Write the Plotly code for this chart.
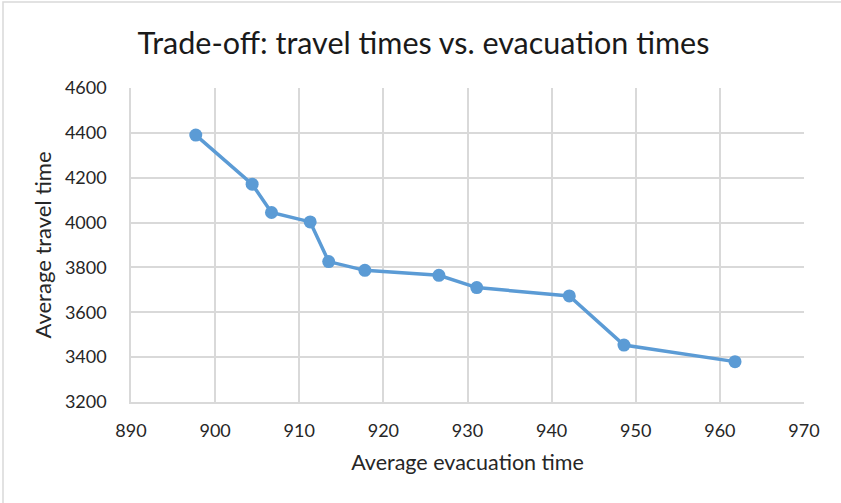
import plotly.graph_objects as go

# Pareto front: average evacuation time vs. average travel time
evacuation_time = [897.7, 904.4, 906.7, 911.3, 913.5, 917.8, 926.6, 931.1, 942.1, 948.6, 961.8]
travel_time = [4390, 4171, 4045, 4003, 3826, 3787, 3765, 3710, 3673, 3454, 3380]

x_ticks = [890, 900, 910, 920, 930, 940, 950, 960, 970]
y_ticks = [3200, 3400, 3600, 3800, 4000, 4200, 4400, 4600]

FONT = "Lato, Open Sans, sans-serif"
GRID = "#d9d9d9"
BLUE = "#5b9bd5"

W, H = 841, 503
L, R, T, B = 131, 37, 88, 101
PW, PH = W - L - R, H - T - B

fig = go.Figure(
    go.Scatter(
        x=evacuation_time,
        y=travel_time,
        mode="lines+markers",
        line=dict(color=BLUE, width=3.5),
        marker=dict(color=BLUE, size=13),
        showlegend=False,
    )
)

fig.update_layout(
    width=W,
    height=H,
    margin=dict(l=L, r=R, t=T, b=B),
    paper_bgcolor="white",
    plot_bgcolor="white",
    title=dict(
        text="Trade-off: travel times vs. evacuation times",
        x=(140 + 707) / 2 / W,
        xanchor="center",
        xref="container",
        y=1 - 43 / H,
        yanchor="middle",
        font=dict(family=FONT, size=30.5, color="#1a1a1a"),
    ),
    xaxis=dict(
        range=[890, 970],
        tickvals=x_ticks,
        ticktext=[str(v) for v in x_ticks],
        showgrid=True,
        gridcolor=GRID,
        gridwidth=1.5,
        showline=True,
        linecolor=GRID,
        linewidth=1.5,
        zeroline=False,
        ticks="",
        ticklabelstandoff=12,
        tickfont=dict(family=FONT, size=18, color="#262626"),
        title=dict(
            text="Average evacuation time",
            font=dict(family=FONT, size=21.5, color="#262626"),
            standoff=15,
        ),
    ),
    yaxis=dict(
        range=[3200, 4600],
        tickvals=y_ticks,
        ticktext=[str(v) for v in y_ticks],
        showgrid=True,
        gridcolor=GRID,
        gridwidth=1.5,
        showline=True,
        linecolor=GRID,
        linewidth=1.5,
        zeroline=False,
        ticks="",
        ticklabelstandoff=19,
        tickfont=dict(family=FONT, size=18, color="#262626"),
        title=dict(
            text="Average travel time",
            font=dict(family=FONT, size=22, color="#262626"),
            standoff=7,
        ),
    ),
    shapes=[
        # chart-area frame
        dict(
            type="rect",
            xref="paper",
            yref="paper",
            x0=-(L - 3) / PW,
            x1=1.2,
            y0=-0.5,
            y1=1 + (T - 2) / PH,
            line=dict(color="#d9d9d9", width=1.5),
            fillcolor="rgba(0,0,0,0)",
            layer="below",
        )
    ],
)

fig.write_html("out.html")
